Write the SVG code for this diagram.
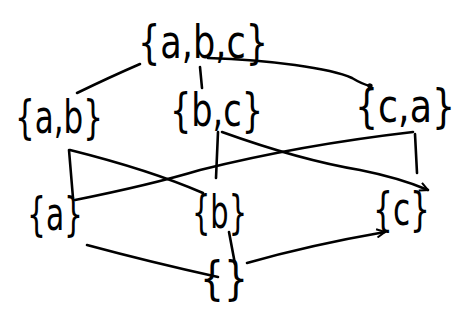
<svg xmlns="http://www.w3.org/2000/svg" width="469" height="326" viewBox="0 0 469 326">
<style>
.lbl{font-family:"DejaVu Sans","Liberation Sans",sans-serif;font-size:46px;fill:#000;}
.edge{fill:none;stroke:#000;stroke-width:2.6;stroke-linecap:round;stroke-linejoin:round;}
</style>
<defs>
<marker id="arr" viewBox="0 0 10 10" refX="9" refY="5" markerWidth="4" markerHeight="4" orient="auto" markerUnits="strokeWidth">
<path d="M1,1 L9,5 L1,9" fill="none" stroke="#000" stroke-width="2"/>
</marker>
<marker id="dot" viewBox="0 0 10 10" refX="5" refY="5" markerWidth="2.5" markerHeight="2.5" orient="auto" markerUnits="strokeWidth">
<circle cx="5" cy="5" r="4" fill="#000"/>
</marker>
</defs>
<rect width="469" height="326" fill="#fff"/>
<g id="connectors">
<path class="edge" d="M140,64 Q110,77 77,93"/>
<path class="edge" d="M200,67 L202,88"/>
<path class="edge" d="M208,58 C270,60 330,68 352,78 Q362,84 370,86" marker-end="url(#dot)"/>
<path class="edge" d="M69,150 L73,198"/>
<path class="edge" d="M70,150 Q150,170 203,193"/>
<path class="edge" d="M75,200 Q150,185 200,170 Q300,145 413,132"/>
<path class="edge" d="M415,134 L417,173"/>
<path class="edge" d="M218,132 L216,178"/>
<path class="edge" d="M222,132 Q300,160 360,170 Q400,178 428,190" marker-end="url(#arr)"/>
<path class="edge" d="M87,245 Q150,262 218,277"/>
<path class="edge" d="M229,232 L235,264"/>
<path class="edge" d="M247,263 Q310,245 385,232" marker-end="url(#arr)"/>
</g>
<g id="n-abc"><text class="lbl" x="138" y="58" textLength="130" lengthAdjust="spacingAndGlyphs">{a,b,c}</text></g>
<g id="n-ab"><text class="lbl" x="15" y="133" textLength="88" lengthAdjust="spacingAndGlyphs">{a,b}</text></g>
<g id="n-bc"><text class="lbl" x="170" y="126" textLength="93" lengthAdjust="spacingAndGlyphs">{b,c}</text></g>
<g id="n-ca"><text class="lbl" transform="translate(355,122) scale(0.79,1)" x="0" y="0">{c,a}</text></g>
<g id="n-a"><text class="lbl" x="27" y="230" textLength="56" lengthAdjust="spacingAndGlyphs">{a}</text></g>
<g id="n-b"><text class="lbl" x="192" y="228" textLength="55" lengthAdjust="spacingAndGlyphs">{b}</text></g>
<g id="n-c"><text class="lbl" x="373" y="225" textLength="57" lengthAdjust="spacingAndGlyphs">{c}</text></g>
<g id="n-empty"><text class="lbl" x="200" y="294" textLength="48" lengthAdjust="spacingAndGlyphs">{}</text></g>
</svg>
